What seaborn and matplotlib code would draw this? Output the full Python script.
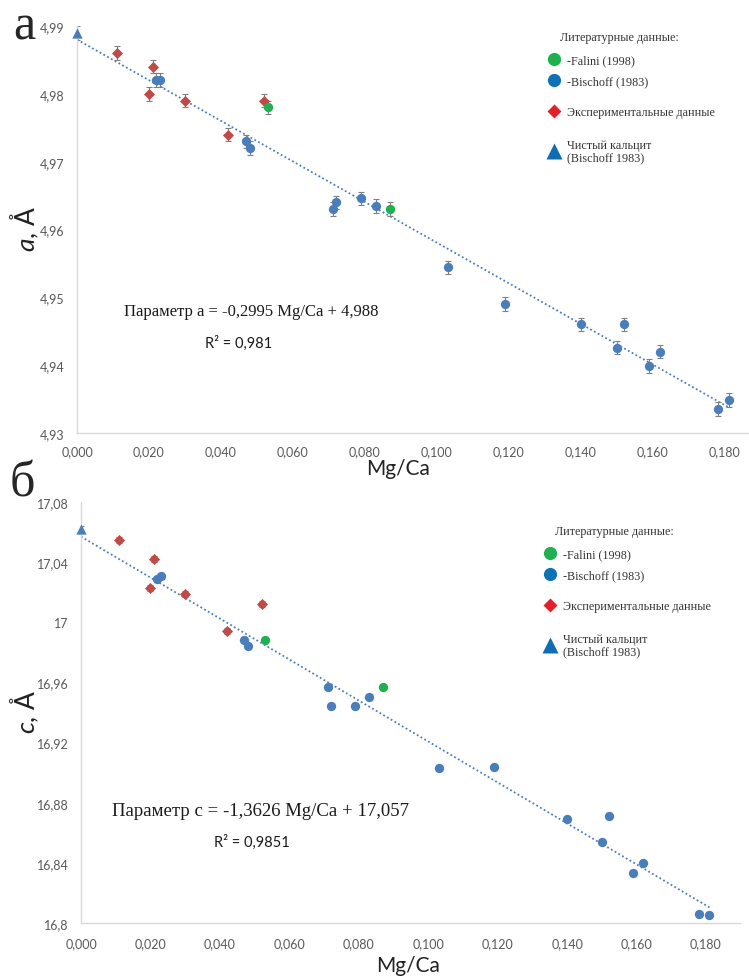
import numpy as np
import pandas as pd
import matplotlib
matplotlib.use("Agg")
import matplotlib.pyplot as plt
from matplotlib.lines import Line2D
from matplotlib.ticker import FixedLocator, FuncFormatter
import seaborn as sns

# ---- data ----
calcite_x = [0.0]
calcite_a = [4.989]
calcite_c = [17.062]

exp_x = [0.011, 0.021, 0.020, 0.030, 0.042, 0.052]
exp_a = [4.986, 4.984, 4.980, 4.979, 4.974, 4.979]
exp_c = [17.055, 17.042, 17.023, 17.019, 16.994, 17.012]

falini_x = [0.053, 0.087]
falini_a = [4.978, 4.963]
falini_c = [16.988, 16.957]

bischoff_x = [0.022, 0.023, 0.047, 0.048, 0.071, 0.072, 0.079, 0.083, 0.103,
              0.119, 0.140, 0.150, 0.152, 0.159, 0.162, 0.178, 0.181]
bischoff_a = [4.982, 4.982, 4.973, 4.972, 4.963, 4.964, 4.9646, 4.9635, 4.9544,
              4.949, 4.946, 4.9426, 4.946, 4.9399, 4.942, 4.9335, 4.9349]
bischoff_c = [17.029, 17.031, 16.988, 16.984, 16.957, 16.944, 16.944, 16.950, 16.903,
              16.904, 16.869, 16.854, 16.871, 16.833, 16.840, 16.806, 16.805]

# trend lines (Excel equations)
slope_a, icpt_a = -0.2995, 4.988
slope_c, icpt_c = -1.3626, 17.057

err_a = 0.001
err_c = 0.002

x_ticks = [0.0, 0.02, 0.04, 0.06, 0.08, 0.10, 0.12, 0.14, 0.16, 0.18]
a_ticks = [4.93, 4.94, 4.95, 4.96, 4.97, 4.98, 4.99]
c_ticks = [16.80, 16.84, 16.88, 16.92, 16.96, 17.00, 17.04, 17.08]

legend_header = "Литературные данные:"
legend_labels = ["-Falini (1998)", "-Bischoff (1983)", "Экспериментальные данные",
                 "Чистый кальцит\n(Bischoff 1983)"]

series_order = ["calcite", "exp", "falini", "bischoff"]
palette = {"calcite": "#4a7ebb", "exp": "#be4b48", "falini": "#1fb04f", "bischoff": "#4a7ebb"}
markers = {"calcite": "^", "exp": "D", "falini": "o", "bischoff": "o"}

sns.set_style("white")
plt.rcParams["font.family"] = ["Lato", "DejaVu Sans"]
plt.rcParams["mathtext.fontset"] = "custom"
plt.rcParams["mathtext.it"] = "Lato:italic"
plt.rcParams["mathtext.rm"] = "Lato"

SERIF = ["Liberation Serif", "DejaVu Serif"]
TICKC = "#595959"
W, H = 749, 979


def build_df(vals):
    xs = [calcite_x, exp_x, falini_x, bischoff_x]
    rows = []
    for name, x, y in zip(series_order, xs, vals):
        for xi, yi in zip(x, y):
            rows.append({"x": xi, "y": yi, "series": name})
    return pd.DataFrame(rows)


def comma_fmt(digits):
    def f(v, pos):
        s = f"{v:.{digits}f}" if digits is not None else f"{round(v, 2):g}"
        return s.replace(".", ",")
    return FuncFormatter(f)


def draw_panel(ax, df, yerr, slope, icpt, xlim, ylim, yticks, yfmt, xpad):
    ax.errorbar(df["x"], df["y"], yerr=yerr, fmt="none", ecolor="#7f7f7f",
                elinewidth=0.8, capsize=2, capthick=0.8, zorder=2)
    lx = np.array([0.0, max(bischoff_x)])
    ax.plot(lx, slope * lx + icpt, color="#4a7ebb", lw=1.3,
            linestyle=(0, (1, 1.4)), zorder=1)
    sizes = {"calcite": 55, "exp": 32, "falini": 45, "bischoff": 45}
    for name in series_order:
        sub = df[df["series"] == name]
        sns.scatterplot(data=sub, x="x", y="y", ax=ax, color=palette[name],
                        marker=markers[name], s=sizes[name], linewidth=0,
                        legend=False, zorder=3, clip_on=False)
    ax.set_xlim(*xlim)
    ax.set_ylim(*ylim)
    ax.xaxis.set_major_locator(FixedLocator(x_ticks))
    ax.yaxis.set_major_locator(FixedLocator(yticks))
    ax.xaxis.set_major_formatter(comma_fmt(3))
    ax.yaxis.set_major_formatter(yfmt)
    ax.tick_params(axis="both", length=0, labelsize=9, labelcolor=TICKC)
    ax.tick_params(axis="y", pad=9)
    ax.tick_params(axis="x", pad=xpad)
    for sp in ["top", "right"]:
        ax.spines[sp].set_visible(False)
    for sp in ["left", "bottom"]:
        ax.spines[sp].set_color("#d9d9d9")
        ax.spines[sp].set_linewidth(1.0)
    ax.set_xlabel("")
    ax.set_ylabel("")


def legend_entry(ax, handle, label, mx, my):
    # one legend per entry so the uneven spacing of the original can be kept
    leg = ax.legend([handle], [label], loc="center left",
                    bbox_to_anchor=((mx - 7) / W, 1 - my / H),
                    bbox_transform=ax.figure.transFigure, frameon=False,
                    handletextpad=0.45, borderaxespad=0, borderpad=0,
                    handlelength=1.2, prop={"family": SERIF, "size": 8.7},
                    labelspacing=0.1)
    for t in leg.get_texts():
        t.set_color("#333333")
        t.set_linespacing(1.05)
    ax.add_artist(leg)
    ax.legend_ = None


def add_legend(ax, mx, hx, ys):
    handles = [
        Line2D([], [], ls="", marker="o", ms=9.5, color="#1fb04f", mec="none"),
        Line2D([], [], ls="", marker="o", ms=9.5, color="#0f72b6", mec="none"),
        Line2D([], [], ls="", marker="D", ms=7.5, color="#e2202a", mec="none"),
        Line2D([], [], ls="", marker="^", ms=11, color="#0f6db2", mec="none"),
    ]
    ax.figure.text(hx / W, 1 - ys[0] / H, legend_header, family=SERIF, fontsize=8.7,
                   ha="left", va="center", color="#333333")
    for h, lab, y in zip(handles, legend_labels, ys[1:]):
        legend_entry(ax, h, lab, mx, y)


fig = plt.figure(figsize=(7.49, 9.79), dpi=100)

ax1 = fig.add_axes([77 / W, 1 - 434 / H, (748 - 77) / W, (434 - 27) / H])
draw_panel(ax1, build_df([calcite_a, exp_a, falini_a, bischoff_a]), err_a,
           slope_a, icpt_a, (0, 0.1864), (4.93, 4.99), a_ticks, comma_fmt(2),
           xpad=9)

ax2 = fig.add_axes([81 / W, 1 - 924 / H, (740 - 81) / W, (924 - 503) / H])
draw_panel(ax2, build_df([calcite_c, exp_c, falini_c, bischoff_c]), err_c,
           slope_c, icpt_c, (0, 0.1898), (16.8, 17.08), c_ticks, comma_fmt(None),
           xpad=10)

add_legend(ax1, 554, 560, [38, 61, 82, 113, 152])
add_legend(ax2, 550, 555, [532, 555, 576, 607, 646])

# panel letters
fig.text(24 / W, 1 - 27 / H, "а", family=SERIF, fontsize=36, ha="center", va="center")
fig.text(22 / W, 1 - 484 / H, "б", family=SERIF, fontsize=36, ha="center", va="center")

# axis labels
fig.text(25 / W, 1 - 229 / H, r"$\it{a}$, Å", fontsize=19, rotation=90,
         ha="center", va="center", color="#222222")
fig.text(25 / W, 1 - 712 / H, r"$\it{c}$, Å", fontsize=19, rotation=90,
         ha="center", va="center", color="#222222")
fig.text(398 / W, 1 - 469 / H, "Mg/Ca", fontsize=15, ha="center", va="center",
         color="#222222")
fig.text(408 / W, 1 - 966 / H, "Mg/Ca", fontsize=15, ha="center", va="center",
         color="#222222")

# equations
fig.text(251 / W, 1 - 312 / H, "Параметр а = -0,2995 Mg/Ca + 4,988", family=SERIF,
         fontsize=12, ha="center", va="center", color="#1a1a1a")
fig.text(239 / W, 1 - 343 / H, "R² = 0,981", fontsize=10.5, ha="center",
         va="center", color="#1a1a1a")
fig.text(261 / W, 1 - 812 / H, "Параметр с = -1,3626 Mg/Ca + 17,057", family=SERIF,
         fontsize=13.5, ha="center", va="center", color="#1a1a1a")
fig.text(252 / W, 1 - 842 / H, "R² = 0,9851", fontsize=10.5, ha="center",
         va="center", color="#1a1a1a")

fig.savefig("out.png", dpi=100)
